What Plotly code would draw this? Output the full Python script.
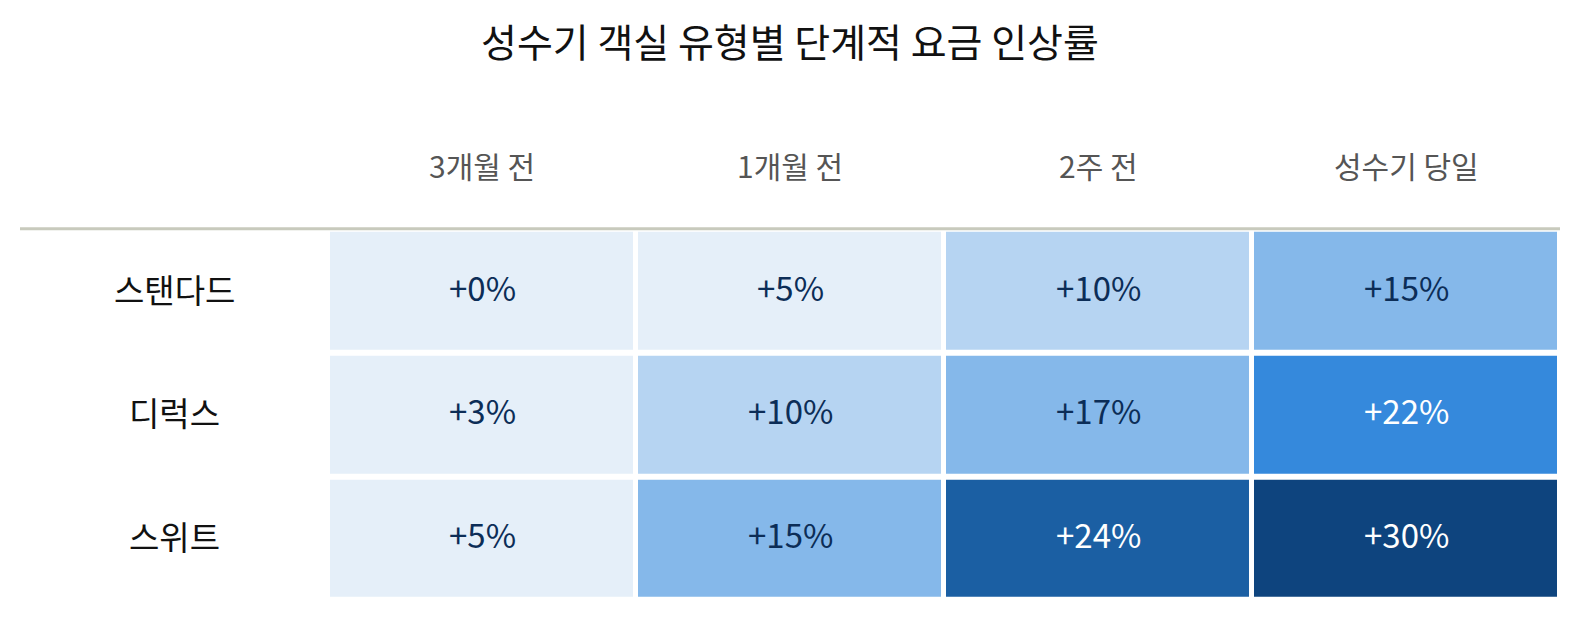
import plotly.graph_objects as go

title = "성수기 객실 유형별 단계적 요금 인상률"
columns = ["3개월 전", "1개월 전", "2주 전", "성수기 당일"]
rows = ["스탠다드", "디럭스", "스위트"]
standard = [0, 5, 10, 15]
deluxe = [3, 10, 17, 22]
suite = [5, 15, 24, 30]
values = [standard, deluxe, suite]

FONT = "Noto Sans CJK KR"
c0, c1, c2, c3, c4, c5 = "#e5eff9", "#b6d4f2", "#85b8ea", "#3589dc", "#1b5fa3", "#0e447e"
zmax = 30
bounds = [0, 8, 12, 20, 23, 27, 30]
cols = [c0, c1, c2, c3, c4, c5]
colorscale = []
for i, c in enumerate(cols):
    colorscale.append([bounds[i] / zmax, c])
    colorscale.append([bounds[i + 1] / zmax, c])

xs = list(range(1, len(columns) + 1))
ys = list(range(1, len(rows) + 1))

fig = go.Figure()
fig.add_trace(go.Heatmap(
    z=values, x=xs, y=ys, colorscale=colorscale, zmin=0, zmax=zmax,
    showscale=False, xgap=5, ygap=6, hoverinfo="skip"))

annotations = []
for r, row in enumerate(values):
    for c, v in enumerate(row):
        annotations.append(dict(
            x=xs[c], y=ys[r], xref="x", yref="y", text=f"+{v}%", showarrow=False,
            yshift=4,
            font=dict(family=FONT, size=33, color="#ffffff" if v >= 20 else "#0c2d57")))
for c, name in enumerate(columns):
    annotations.append(dict(x=xs[c], y=0, xref="x", yref="y", text=name, showarrow=False,
                            yshift=2, font=dict(family=FONT, size=30, color="#555555")))
for r, name in enumerate(rows):
    annotations.append(dict(x=0, y=ys[r], xref="x", yref="y", text=name, showarrow=False,
                            yshift=2, font=dict(family=FONT, size=33, color="#111111")))

fig.add_shape(type="line", xref="paper", x0=0, x1=1, yref="y", y0=0.5, y1=0.5,
              line=dict(color="#c8cabd", width=3))

fig.update_layout(
    width=1580, height=620,
    margin=dict(l=20, r=20, t=105, b=20),
    paper_bgcolor="white", plot_bgcolor="white",
    showlegend=False,
    annotations=annotations,
    title=dict(text=title, x=0.5, xanchor="center", y=1 - 43 / 620, yanchor="middle",
               yref="container", font=dict(family=FONT, size=39, color="#111111")),
    xaxis=dict(range=[-0.5, len(columns) + 0.5], visible=False, fixedrange=True),
    yaxis=dict(range=[len(rows) + 0.5, -0.5], visible=False, fixedrange=True),
)
fig.write_html("out.html")
